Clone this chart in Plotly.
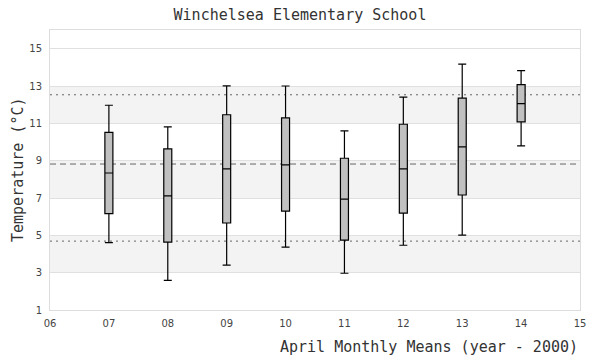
import plotly.graph_objects as go

years = [7, 8, 9, 10, 11, 12, 13, 14]
lower = [4.61, 2.59, 3.40, 4.37, 2.97, 4.47, 5.01, 9.79]
q1 = [6.16, 4.64, 5.66, 6.30, 4.74, 6.19, 7.16, 11.08]
median = [8.34, 7.11, 8.56, 8.77, 6.94, 8.56, 9.74, 12.06]
q3 = [10.52, 9.63, 11.46, 11.29, 9.13, 10.95, 12.35, 13.07]
upper = [11.97, 10.81, 13.01, 13.0, 10.60, 12.40, 14.17, 13.82]

mean_line = 8.82
upper_line = 12.53
lower_line = 4.69

x_ticks = list(range(6, 16))
x_labels = ["%02d" % v for v in x_ticks]
y_ticks = [1, 3, 5, 7, 9, 11, 13, 15]
bands = [(3, 5), (7, 9), (11, 13)]

fig = go.Figure()
fig.add_trace(go.Box(
    x=years, q1=q1, median=median, q3=q3,
    lowerfence=lower, upperfence=upper,
    fillcolor="#c0c0c0", line=dict(color="black", width=1.2),
    width=0.136, whiskerwidth=1, boxpoints=False, showlegend=False,
    hoverinfo="skip",
))

shapes = []
for a, b in bands:
    shapes.append(dict(type="rect", xref="paper", yref="y", x0=0, x1=1, y0=a, y1=b,
                       fillcolor="#f3f3f3", line=dict(width=0), layer="below"))
for val, dash in [(upper_line, "2px,4px"), (mean_line, "6px,4px"), (lower_line, "2px,4px")]:
    shapes.append(dict(type="line", xref="paper", yref="y", x0=0, x1=1, y0=val, y1=val,
                       line=dict(color="#666666", width=1, dash=dash), layer="below"))

fig.update_layout(
    width=600, height=360,
    margin=dict(l=50, r=20, t=30, b=50),
    paper_bgcolor="white", plot_bgcolor="white",
    shapes=shapes,
    title=dict(text="Winchelsea Elementary School", x=0.5, xanchor="center",
               y=1 - 15 / 360, yanchor="middle",
               font=dict(family="DejaVu Sans Mono", size=15, color="#333333")),
    xaxis=dict(range=[6, 15], tickvals=x_ticks, ticktext=x_labels, showgrid=False,
               zeroline=False, showline=True, linecolor="#dddddd", mirror=True,
               ticks="outside", ticklen=4, tickcolor="rgba(0,0,0,0)",
               tickfont=dict(family="DejaVu Sans", size=10, color="#444444")),
    yaxis=dict(range=[1, 16], tickvals=y_ticks, showgrid=True, gridcolor="#e0e0e0",
               zeroline=False, showline=True, linecolor="#dddddd", mirror=True,
               ticks="outside", ticklen=5, tickcolor="rgba(0,0,0,0)",
               tickfont=dict(family="DejaVu Sans", size=10, color="#444444")),
    annotations=[
        dict(text="April Monthly Means (year - 2000)", xref="paper", yref="paper",
             x=1, y=-37 / 280, xanchor="right", yanchor="middle", showarrow=False,
             font=dict(family="DejaVu Sans Mono", size=15, color="#333333")),
        dict(text="Temperature (°C)", xref="paper", yref="paper",
             x=-32 / 530, y=0.5, xanchor="center", yanchor="middle", textangle=-90,
             showarrow=False,
             font=dict(family="DejaVu Sans Mono", size=15, color="#333333")),
    ],
)

fig.write_html("out.html", config={"displayModeBar": False},
               post_script="document.body.style.margin='0';document.body.style.overflow='hidden';")
